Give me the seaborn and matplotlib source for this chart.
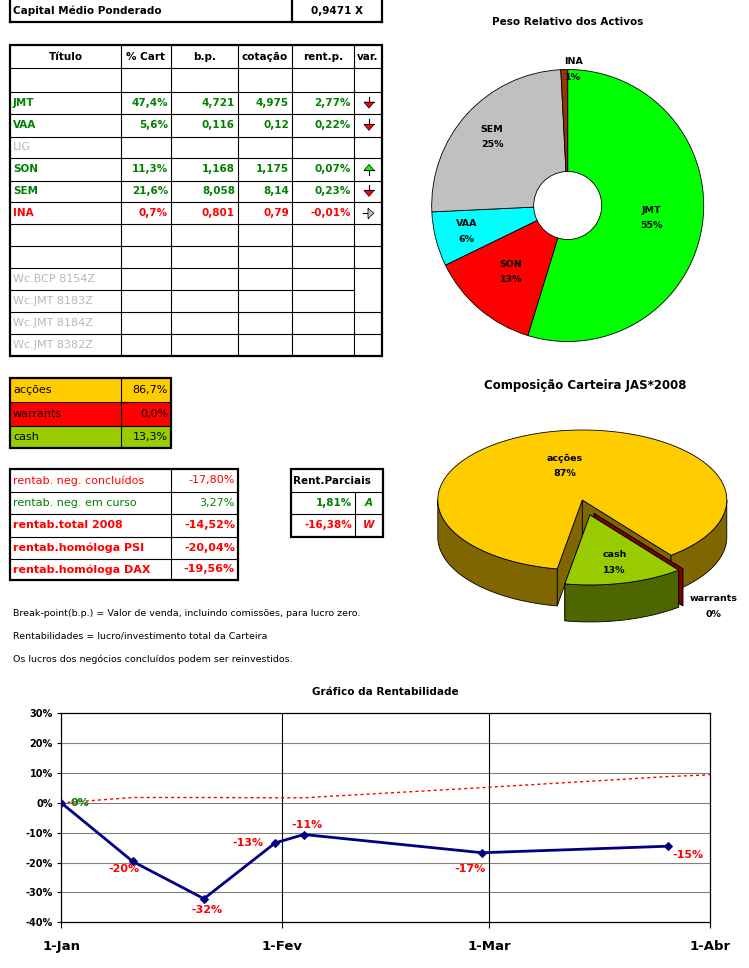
import numpy as np
import pandas as pd
import matplotlib
matplotlib.use('Agg')
import matplotlib.pyplot as plt
from matplotlib.patches import Rectangle, Polygon
import seaborn as sns

# ---------------- data ----------------
capital_rotulo = 'Capital Médio Ponderado'
capital_valor = 0.9471

cabecalho = ['Título', '% Cart', 'b.p.', 'cotação', 'rent.p.', 'var.']
titulos = ['JMT', 'VAA', 'LIG', 'SON', 'SEM', 'INA']
pct_cart = [47.4, 5.6, None, 11.3, 21.6, 0.7]
break_point = [4.721, 0.116, None, 1.168, 8.058, 0.801]
cotacao = [4.975, 0.12, None, 1.175, 8.14, 0.79]
rent_p = [2.77, 0.22, None, 0.07, 0.23, -0.01]
variacao = ['down', 'down', None, 'up', 'down', 'right']
warrants_titulos = ['Wc.BCP 8154Z', 'Wc.JMT 8183Z', 'Wc.JMT 8184Z', 'Wc.JMT 8382Z']

comp_nomes = ['acções', 'warrants', 'cash']
comp_pct = [86.7, 0.0, 13.3]

rent_rotulos = ['rentab. neg. concluídos', 'rentab. neg. em curso', 'rentab.total 2008',
                'rentab.homóloga PSI', 'rentab.homóloga DAX']
rent_valores = [-17.80, 3.27, -14.52, -20.04, -19.56]

parciais_titulo = 'Rent.Parciais'
parciais_valores = [1.81, -16.38]
parciais_tipos = ['A', 'W']

notas = ['Break-point(b.p.) = Valor de venda, incluindo comissões, para lucro zero.',
         'Rentabilidades = lucro/investimento total da Carteira',
         'Os lucros dos negócios concluídos podem ser reinvestidos.']

donut_titulo = 'Peso Relativo dos Activos'
donut_nomes = ['JMT', 'SON', 'VAA', 'SEM', 'INA']

comp_titulo = 'Composição Carteira JAS*2008'

linha_titulo = 'Gráfico da Rentabilidade'
datas = ['2008-01-01', '2008-01-11', '2008-01-21', '2008-01-31', '2008-02-04', '2008-02-29', '2008-03-26']
rentabilidade = [0.0, -19.6, -32.1, -13.4, -10.6, -16.7, -14.52]
ref_datas = ['2008-01-01', '2008-01-11', '2008-01-21', '2008-01-31', '2008-02-04', '2008-02-29',
             '2008-03-26', '2008-03-31', '2008-04-01']
ref_valores = [0.0, 1.8, 1.8, 1.7, 1.7, 5.1, 8.8, 9.3, 9.5]
meses = ['2008-01-01', '2008-02-01', '2008-03-01', '2008-04-01']
meses_rotulos = ['1-Jan', '1-Fev', '1-Mar', '1-Abr']
y_ticks = [-40, -30, -20, -10, 0, 10, 20, 30]

# ---------------- style ----------------
sns.set_style('white')
plt.rcParams['font.family'] = ['DejaVu Sans']
for key in ('text.color', 'axes.labelcolor', 'xtick.color', 'ytick.color'):
    plt.rcParams[key] = 'black'
GREEN = '#008000'
RED = '#FF0000'
GRAY = '#B8B8B8'
TH = 1.6
TN = 0.8

W, H = 749, 968
fig = plt.figure(figsize=(W / 100, H / 100), dpi=100)
fig.patch.set_facecolor('white')
bg = fig.add_axes([0, 0, 1, 1])
bg.set_xlim(0, W)
bg.set_ylim(H, 0)
bg.axis('off')


def fmt(v, dec):
    return f'{v:.{dec}f}'.replace('.', ',')


def fmtg(v):
    return f'{v:g}'.replace('.', ',')


def line(x0, y0, x1, y1, lw=TN, color='black'):
    bg.plot([x0, x1], [y0, y1], color=color, lw=lw, solid_capstyle='projecting', zorder=3)


def box(x0, y0, x1, y1, lw=TH, fc='none'):
    bg.add_patch(Rectangle((x0, y0), x1 - x0, y1 - y0, fc=fc, ec='black', lw=lw, zorder=3))


def txt(x, y, s, ha='left', color='black', size=7.5, weight='bold', **kw):
    bg.text(x, y, s, ha=ha, va='center', color=color, fontsize=size, fontweight=weight, zorder=4, **kw)


def sign_color(v):
    return GREEN if v >= 0 else RED


# ---- Capital box ----
line(10, -2, 10, 22, TH)
line(292, -2, 292, 22, TH)
line(382, -2, 382, 22, TH)
line(10, 22, 382, 22, TH)
txt(13, 11, capital_rotulo)
txt(337, 11, fmt(capital_valor, 4) + ' X', ha='center', size=7.5)

# ---- main table ----
cx_ = [10, 121, 171, 238, 292, 354, 382]
ry = [45, 68.3, 92, 114.3, 136.5, 158.3, 180.5, 202.3, 224.3, 246.3, 268.3, 290.3, 312.3, 334.3, 355.7]
for x in cx_[1:-1]:
    line(x, ry[0], x, ry[-1])
for i, y in enumerate(ry[1:-1], start=1):
    xe = cx_[-2] if i == 11 else cx_[-1]
    line(cx_[0], y, xe, y)
box(cx_[0], ry[0], cx_[-1], ry[-1])

for j, h in enumerate(cabecalho):
    txt((cx_[j] + cx_[j + 1]) / 2, (ry[0] + ry[1]) / 2, h, ha='center')


def arrow(kind, x, y):
    if kind == 'down':
        line(x, y - 6, x, y - 1, 0.8)
        line(x - 5, y - 1, x + 5, y - 1, 0.8)
        bg.add_patch(Polygon([(x - 5, y - 1), (x + 5, y - 1), (x, y + 5)], fc=RED, ec='black', lw=0.5, zorder=4))
    elif kind == 'up':
        line(x, y + 6, x, y + 1, 0.8)
        line(x - 5, y + 1, x + 5, y + 1, 0.8)
        bg.add_patch(Polygon([(x - 5, y + 1), (x + 5, y + 1), (x, y - 5)], fc='#00FF00', ec='black', lw=0.5, zorder=4))
    elif kind == 'right':
        line(x - 6, y, x - 1, y, 0.8)
        line(x - 1, y - 5, x - 1, y + 5, 0.8)
        bg.add_patch(Polygon([(x - 1, y - 5), (x - 1, y + 5), (x + 5, y)], fc='#C0C0C0', ec='black', lw=0.5, zorder=4))


for k, nome in enumerate(titulos):
    r = k + 2
    yc = (ry[r] + ry[r + 1]) / 2
    if rent_p[k] is None:
        txt(13, yc, nome, color=GRAY, weight='normal', size=8)
        continue
    c = sign_color(rent_p[k])
    txt(13, yc, nome, color=c)
    txt(cx_[2] - 3, yc, fmt(pct_cart[k], 1) + '%', ha='right', color=c)
    txt(cx_[3] - 3, yc, fmtg(break_point[k]), ha='right', color=c)
    txt(cx_[4] - 3, yc, fmtg(cotacao[k]), ha='right', color=c)
    txt(cx_[5] - 3, yc, fmt(rent_p[k], 2) + '%', ha='right', color=c)
    arrow(variacao[k], (cx_[5] + cx_[6]) / 2 + 1, yc)

for k, nome in enumerate(warrants_titulos):
    r = k + 10
    txt(13, (ry[r] + ry[r + 1]) / 2, nome, color=GRAY, weight='normal', size=8)

# ---- composition table ----
comp_top = ['#FFCC00', '#FF0000', '#99CC00']
comp_side = ['#806600', '#800000', '#4D6600']
cy_ = [378.3, 402.3, 425.7, 448.3]
for k, nome in enumerate(comp_nomes):
    bg.add_patch(Rectangle((10, cy_[k]), 161, cy_[k + 1] - cy_[k], fc=comp_top[k], ec='none', zorder=2))
    ym = (cy_[k] + cy_[k + 1]) / 2
    txt(13, ym, nome, weight='normal', size=8)
    txt(168, ym, fmt(comp_pct[k], 1) + '%', ha='right', weight='normal', size=8)
for y in cy_[1:-1]:
    line(10, y, 171, y)
line(121, cy_[0], 121, cy_[-1])
box(10, cy_[0], 171, cy_[-1])

# ---- rentab table ----
rr = [469.3, 491.7, 514.3, 536.7, 558.7, 580]
for k, rot in enumerate(rent_rotulos):
    ym = (rr[k] + rr[k + 1]) / 2
    c = sign_color(rent_valores[k])
    w = 'normal' if k < 2 else 'bold'
    txt(13, ym, rot, color=c, weight=w, size=8)
    txt(235, ym, fmt(rent_valores[k], 2) + '%', ha='right', color=c, weight=w, size=8)
for y in rr[1:-1]:
    line(10, y, 238, y)
line(171, rr[0], 171, rr[-1])
box(10, rr[0], 238, rr[-1])

# ---- parciais table ----
pr = [469.3, 491.7, 514.3, 536.7]
txt(293, (pr[0] + pr[1]) / 2, parciais_titulo)
for k, v in enumerate(parciais_valores):
    ym = (pr[k + 1] + pr[k + 2]) / 2
    c = sign_color(v)
    txt(352, ym, fmt(v, 2) + '%', ha='right', color=c)
    txt(369, ym, parciais_tipos[k], ha='center', color=c, style='italic')
for y in pr[1:-1]:
    line(291, y, 383, y)
line(355, pr[1], 355, pr[-1])
box(291, pr[0], 383, pr[-1])

# ---- notes ----
for k, n in enumerate(notas):
    txt(13, 613 + k * 23, n, weight='normal', size=6.8)

# ---------------- donut ----------------
dcx, dcy, R = 567.7, 205.5, 136
dax = fig.add_axes([(dcx - 150) / W, (H - dcy - 150) / H, 300 / W, 300 / H])
donut_vals = [pct_cart[titulos.index(n)] for n in donut_nomes]
donut_cols = ['#00FF00', '#FF0000', '#00FFFF', '#C0C0C0', '#993300']
wedges, _ = dax.pie(donut_vals, colors=donut_cols, startangle=90, counterclock=False, radius=R,
                    wedgeprops=dict(width=R - 34, edgecolor='black', linewidth=0.6))
dax.set_xlim(-150, 150)
dax.set_ylim(-150, 150)
dax.axis('off')
tot = sum(donut_vals)
lab_r = [0.62, 0.64, 0.77, 0.75, 1.0]
for w, n, v, f in zip(wedges, donut_nomes, donut_vals, lab_r):
    m = np.radians((w.theta1 + w.theta2) / 2)
    dax.text(f * R * np.cos(m) + (9 if f >= 1 else 0), f * R * np.sin(m), f'{n}\n{v / tot * 100:.0f}%',
             ha='center', va='center', fontsize=6.8, fontweight='bold', linespacing=1.9, color='black')
txt(dcx, 22, donut_titulo, ha='center', size=7.5)

# ---------------- 3D pie ----------------
pcx, pcy, A, B, D = 582.3, 500, 144.5, 70, 37
explode = [0.0, 0.21, 0.22]
explode_shift = [0, -15, 0]
start = -100.0
tot = sum(comp_pct)
bounds = []
t = start
for v in comp_pct:
    bounds.append((t - v / tot * 360, t))
    t -= v / tot * 360


def P(theta, off, dz=0.0):
    tr = np.radians(theta)
    return (pcx + off[0] + A * np.cos(tr), pcy + off[1] - B * np.sin(tr) + dz)


def poly(pts, fc, z):
    bg.add_patch(Polygon(pts, closed=True, fc=fc, ec='black', lw=0.6, zorder=z))


z = 5
offs = []
for k, (lo, hi) in enumerate(bounds):
    md = np.radians((lo + hi) / 2 + explode_shift[k])
    off = (explode[k] * A * np.cos(md), -explode[k] * B * np.sin(md))
    offs.append(off)
    apex = (pcx + off[0], pcy + off[1])
    apex_d = (apex[0], apex[1] + D)
    for th in (lo, hi):
        poly([apex, P(th, off), P(th, off, D), apex_d], comp_side[k], z)
    z += 0.01
    for n in range(-3, 3):
        a0, a1 = max(lo, -180 + 360 * n), min(hi, 360 * n)
        if a1 > a0:
            ts = np.linspace(a0, a1, 80)
            top = [P(tt, off) for tt in ts]
            bot = [P(tt, off, D) for tt in ts[::-1]]
            poly(top + bot, comp_side[k], z)
    z += 0.01
    if hi - lo > 0:
        ts = np.linspace(lo, hi, 200)
        poly([apex] + [P(tt, off) for tt in ts], comp_top[k], z)
    z += 0.01

lab_pos = [(0.5, 0), (1.35, D / 2), (0.7, 0)]
for k, n in enumerate(comp_nomes):
    lo, hi = bounds[k]
    md = (lo + hi) / 2
    f, dz = lab_pos[k]
    x = pcx + offs[k][0] + f * A * np.cos(np.radians(md))
    y = pcy + offs[k][1] - f * B * np.sin(np.radians(md)) + dz
    bg.text(x, y, f'{n}\n{comp_pct[k] / tot * 100:.0f}%', ha='center', va='center', fontsize=6.8,
            fontweight='bold', linespacing=1.9, zorder=8, color='black')
txt(585, 386, comp_titulo, ha='center', size=8.5)

# ---------------- line chart ----------------
x0, x1, yt, yb = 61.3, 710.3, 713.3, 922.3
ax = fig.add_axes([x0 / W, (H - yb) / H, (x1 - x0) / W, (yb - yt) / H])
ax.set_facecolor('white')
df = pd.DataFrame({'data': pd.to_datetime(datas), 'rent': rentabilidade})
dref = pd.DataFrame({'data': pd.to_datetime(ref_datas), 'rent': ref_valores})
sns.lineplot(data=dref, x='data', y='rent', ax=ax, color=RED, lw=1.0, linestyle=(0, (2.2, 2.2)), zorder=3)
sns.lineplot(data=df, x='data', y='rent', ax=ax, color='#000080', lw=2.0, marker='D', markersize=4,
             markeredgecolor='#000080', zorder=4)
mes_dt = pd.to_datetime(meses)
ax.set_xlim(mes_dt[0], mes_dt[-1])
ax.set_ylim(-40, 30)
ax.set_yticks(y_ticks)
ax.set_yticklabels([f'{v}%' for v in y_ticks], fontsize=7, fontweight='bold', color='black')
ax.set_xticks(mes_dt)
ax.set_xticklabels(meses_rotulos, fontsize=9.5, fontweight='bold', color='black')
ax.set_xlabel('')
ax.set_ylabel('')
for v in y_ticks[1:-1]:
    ax.axhline(v, color='#808080', lw=0.8, zorder=1)
for m in mes_dt[1:-1]:
    ax.axvline(m, color='black', lw=0.8, zorder=1)
for s in ax.spines.values():
    s.set_color('black')
    s.set_linewidth(0.9)
    s.set_visible(True)
ax.tick_params(axis='y', direction='out', length=3, width=0.8, pad=3, left=True, colors='black')
ax.tick_params(axis='x', direction='out', length=4.5, width=0.8, pad=8, bottom=True, colors='black')
label_off = [(19, 0), (-9, -8), (3, -11), (-27, 0), (3, 10), (-12, -16), (20, -9)]
for d, v, o in zip(df['data'], rentabilidade, label_off):
    c = GREEN if round(v) == 0 else RED
    ax.annotate(f'{round(v):.0f}%', (d, v), xytext=o, textcoords='offset pixels', ha='center', va='center',
                color=c, fontsize=8, fontweight='bold', zorder=6)
txt(385, 692, linha_titulo, ha='center', size=7.5)

fig.savefig('out.png', dpi=100, facecolor='white')
